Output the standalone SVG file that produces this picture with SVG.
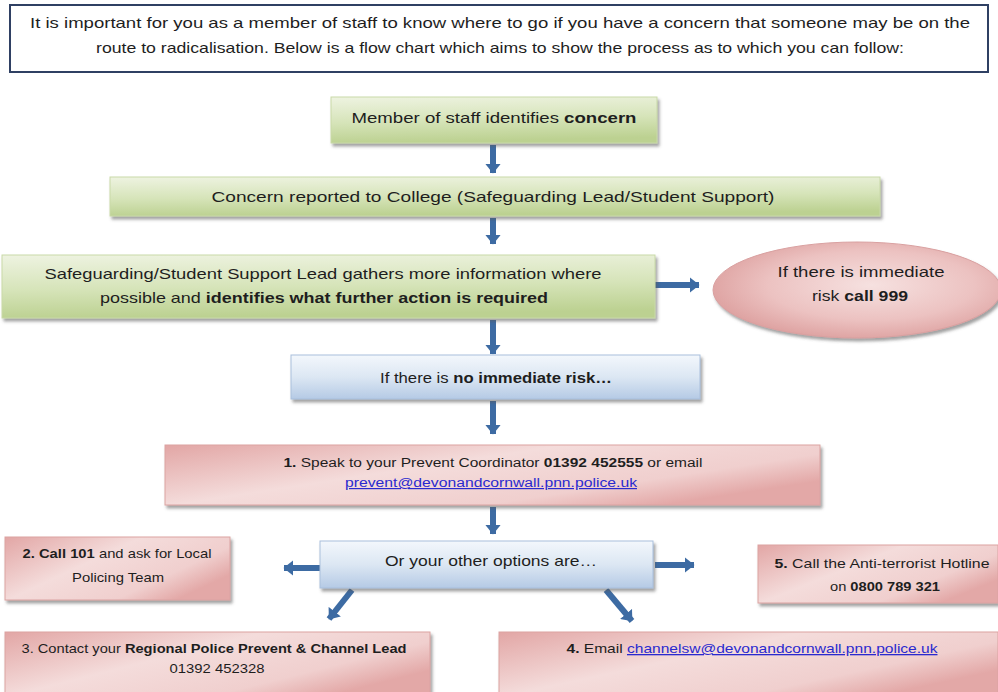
<svg xmlns="http://www.w3.org/2000/svg" width="998" height="692" viewBox="0 0 998 692">
<defs>
  <linearGradient id="gGreen" x1="0" y1="0" x2="0.15" y2="1">
    <stop offset="0" stop-color="#eef3e1"/>
    <stop offset="0.55" stop-color="#d6e4b9"/>
    <stop offset="1" stop-color="#bcd191"/>
  </linearGradient>
  <linearGradient id="gBlue" x1="0" y1="0" x2="0" y2="1">
    <stop offset="0" stop-color="#f3f7fc"/>
    <stop offset="0.5" stop-color="#dce7f3"/>
    <stop offset="1" stop-color="#b5cae5"/>
  </linearGradient>
  <linearGradient id="gRed" x1="0" y1="0" x2="1" y2="0.6">
    <stop offset="0" stop-color="#e2a6a5"/>
    <stop offset="0.45" stop-color="#f4dcdb"/>
    <stop offset="0.8" stop-color="#f0cfce"/>
    <stop offset="1" stop-color="#e3a8a7"/>
  </linearGradient>
  <radialGradient id="gEll" cx="0.55" cy="0.45" r="0.6">
    <stop offset="0" stop-color="#f6e1e0"/>
    <stop offset="0.6" stop-color="#ecc2c1"/>
    <stop offset="1" stop-color="#dc9e9d"/>
  </radialGradient>
  <filter id="sh" x="-5%" y="-10%" width="115%" height="140%">
    <feDropShadow dx="2" dy="3" stdDeviation="1.5" flood-color="#555" flood-opacity="0.55"/>
  </filter>
  <marker id="ah" viewBox="0 0 10 16" refX="9.5" refY="8" markerWidth="1.7" markerHeight="2.6" markerUnits="strokeWidth" orient="auto">
    <path d="M0,0 L10,8 L0,16 Z" fill="#3d6ba3"/>
  </marker>
</defs>
<style>
  text { font-family: "Liberation Sans", Arial, sans-serif; fill: #1e1e1e; }
  .t15 { font-size: 15px; }
  .t14 { font-size: 14px; }
  .t13 { font-size: 13px; }
  .t12 { font-size: 12px; }
  .b { font-weight: bold; }
  .lnk { fill: #2a2acf; text-decoration: underline; }
  .green { fill: url(#gGreen); stroke: #c9d9a8; stroke-width: 1; filter: url(#sh); }
  .blue { fill: url(#gBlue); stroke: #a9bfdc; stroke-width: 1; filter: url(#sh); }
  .red { fill: url(#gRed); stroke: #dba3a2; stroke-width: 1; filter: url(#sh); }
  .arr { stroke: #3d6ba3; stroke-width: 6; fill: none; marker-end: url(#ah); }
</style>
<rect width="998" height="692" fill="#ffffff"/>

<g id="intro">
  <rect x="10" y="5" width="978" height="67" fill="#ffffff" stroke="#2f4063" stroke-width="2"/>
  <text class="t15" x="500" y="28" text-anchor="middle" textLength="940" lengthAdjust="spacingAndGlyphs">It is important for you as a member of staff to know where to go if you have a concern that someone may be on the</text>
  <text class="t15" x="500" y="53" text-anchor="middle" textLength="808" lengthAdjust="spacingAndGlyphs">route to radicalisation. Below is a flow chart which aims to show the process as to which you can follow:</text>
</g>

<g id="connectors">
  <line class="arr" x1="493" y1="145" x2="493" y2="173"/>
  <line class="arr" x1="493" y1="218" x2="493" y2="244"/>
  <line class="arr" x1="655" y1="285" x2="699" y2="285"/>
  <line class="arr" x1="493" y1="320" x2="493" y2="354"/>
  <line class="arr" x1="493" y1="401" x2="493" y2="434"/>
  <line class="arr" x1="493" y1="507" x2="493" y2="534"/>
  <line class="arr" x1="320" y1="568" x2="284" y2="568"/>
  <line class="arr" x1="655" y1="565" x2="694" y2="565"/>
  <line class="arr" x1="352" y1="590" x2="329" y2="619"/>
  <line class="arr" x1="606" y1="590" x2="632" y2="621"/>
</g>

<g id="n1">
  <rect class="green" x="331" y="97" width="326" height="46"/>
  <text class="t15" x="494" y="123" text-anchor="middle" textLength="285" lengthAdjust="spacingAndGlyphs">Member of staff identifies <tspan class="b">concern</tspan></text>
</g>

<g id="n2">
  <rect class="green" x="110" y="177" width="770" height="39"/>
  <text class="t15" x="493" y="202" text-anchor="middle" textLength="563" lengthAdjust="spacingAndGlyphs">Concern reported to College (Safeguarding Lead/Student Support)</text>
</g>

<g id="n3">
  <rect class="green" x="2" y="255" width="653" height="63"/>
  <text class="t15" x="323" y="279" text-anchor="middle" textLength="557" lengthAdjust="spacingAndGlyphs">Safeguarding/Student Support  Lead gathers more information where</text>
  <text class="t15" x="324" y="303" text-anchor="middle" textLength="448" lengthAdjust="spacingAndGlyphs">possible and <tspan class="b">identifies what further action is required</tspan></text>
</g>

<g id="n4">
  <ellipse cx="857" cy="290" rx="144" ry="48" fill="url(#gEll)" stroke="#d9a0a0" stroke-width="1" filter="url(#sh)"/>
  <text class="t15" x="861" y="277" text-anchor="middle" textLength="167" lengthAdjust="spacingAndGlyphs">If there is immediate</text>
  <text class="t15" x="860" y="301" text-anchor="middle" textLength="96" lengthAdjust="spacingAndGlyphs">risk <tspan class="b">call 999</tspan></text>
</g>

<g id="n5">
  <rect class="blue" x="291" y="355" width="409" height="44"/>
  <text class="t15" x="496" y="383" text-anchor="middle" textLength="232" lengthAdjust="spacingAndGlyphs">If there is <tspan class="b">no immediate risk…</tspan></text>
</g>

<g id="n6">
  <rect class="red" x="165" y="445" width="655" height="60"/>
  <text class="t12" x="493" y="467" text-anchor="middle" textLength="419" lengthAdjust="spacingAndGlyphs"><tspan class="b">1.</tspan> Speak to your Prevent Coordinator <tspan class="b">01392 452555</tspan> or email</text>
  <text class="t12 lnk" x="491" y="487" text-anchor="middle" textLength="292" lengthAdjust="spacingAndGlyphs">prevent@devonandcornwall.pnn.police.uk</text>
</g>

<g id="n7">
  <rect class="blue" x="320" y="541" width="333" height="47"/>
  <text class="t15" x="491" y="566" text-anchor="middle" textLength="212" lengthAdjust="spacingAndGlyphs">Or your other options are…</text>
</g>

<g id="n8">
  <rect class="red" x="5" y="537" width="225" height="63"/>
  <text class="t13" x="117" y="558" text-anchor="middle" textLength="189" lengthAdjust="spacingAndGlyphs"><tspan class="b">2. Call 101</tspan> and ask for Local</text>
  <text class="t13" x="118" y="582" text-anchor="middle" textLength="92" lengthAdjust="spacingAndGlyphs">Policing Team</text>
</g>

<g id="n9">
  <rect class="red" x="758" y="545" width="240" height="58"/>
  <text class="t13" x="882" y="568" text-anchor="middle" textLength="215" lengthAdjust="spacingAndGlyphs"><tspan class="b">5.</tspan> Call the Anti-terrorist Hotline</text>
  <text class="t13" x="885" y="591" text-anchor="middle" textLength="110" lengthAdjust="spacingAndGlyphs">on <tspan class="b">0800 789 321</tspan></text>
</g>

<g id="n10">
  <rect class="red" x="5" y="632" width="425" height="64"/>
  <text class="t13" x="214" y="653" text-anchor="middle" textLength="385" lengthAdjust="spacingAndGlyphs">3. Contact your <tspan class="b">Regional  Police Prevent &amp; Channel Lead</tspan></text>
  <text class="t13" x="217" y="673" text-anchor="middle" textLength="95" lengthAdjust="spacingAndGlyphs">01392 452328</text>
</g>

<g id="n11">
  <rect class="red" x="499" y="632" width="499" height="64"/>
  <text class="t13" x="752" y="653" text-anchor="middle" textLength="371" lengthAdjust="spacingAndGlyphs"><tspan class="b">4.</tspan> Email  <tspan class="lnk">channelsw@devonandcornwall.pnn.police.uk</tspan></text>
</g>
</svg>
